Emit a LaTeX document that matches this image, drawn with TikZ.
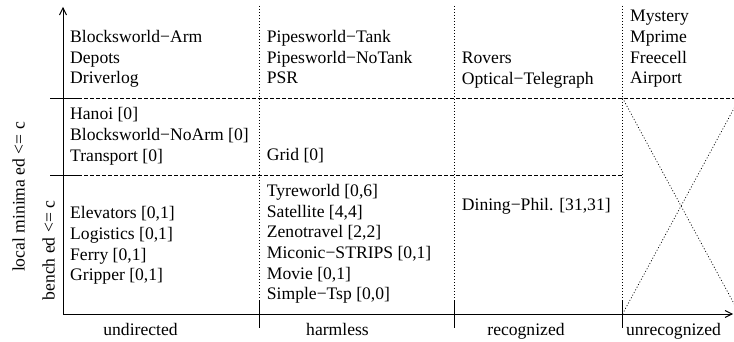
\documentclass[tikz,border=0pt]{standalone}
\usepackage{fontspec}
\setmainfont{Liberation Serif}
\usepackage{tikz}
\usetikzlibrary{arrows.meta}
\tikzstyle{cellTX} = [anchor=north west, inner sep=0pt, align=left, font=\fontsize{17.6}{20.7}\selectfont]
\tikzstyle{axisTX} = [anchor=base, inner sep=0pt, font=\fontsize{17.6}{20.7}\selectfont]
\tikzstyle{axisLN} = [draw, line width=0.9pt, -{Straight Barb[length=7pt,width=7pt]}]
\tikzstyle{tickLN} = [draw, line width=0.9pt]
\tikzstyle{rowDS} = [draw, line width=0.7pt, dash pattern=on 3.5pt off 2.5pt]
\tikzstyle{colDT} = [draw, line width=0.7pt, dash pattern=on 1pt off 2pt]

\begin{document}
\begin{tikzpicture}[x=1pt, y=-1pt]
  \useasboundingbox (0,0) rectangle (734,342);
  \clip (0,0) rectangle (734,342);

  % ejes
  \coordinate (origin) at (63,314);
  \coordinate (y_end) at (63,7);
  \coordinate (x_end) at (733,314);
  \path [axisLN] (origin) -- (y_end);
  \path [axisLN] (origin) -- (x_end);
  \foreach \y in {98,175} \path [tickLN] (50,\y) -- (78,\y);
  \foreach \x in {259,454,622.5} \path [tickLN] (\x,300) -- (\x,328);

  % rejilla
  \path [rowDS] (78,98) -- (734,98);
  \path [rowDS] (78,175) -- (622.5,175);
  \foreach \x in {259,454,622.5} \path [colDT] (\x,6) -- (\x,300);
  \path [colDT] (622.5,98) -- (739.6,314);
  \path [colDT] (622.5,314) -- (739.6,98);

  % nodes
  \node [cellTX] (undir_top) at (70,30) {Blocksworld−Arm\\Depots\\Driverlog};
  \node [cellTX] (harm_top) at (266.7,30) {Pipesworld−Tank\\Pipesworld−NoTank\\PSR};
  \node [cellTX] (recog_top) at (461.7,51.7) {Rovers\\Optical−Telegraph};
  \node [cellTX] (unrec_top) at (630,10) {Mystery\\Mprime\\Freecell\\Airport};
  \node [cellTX] (undir_mid) at (70,107.3) {Hanoi [0]\\Blocksworld−NoArm [0]\\Transport [0]};
  \node [cellTX] (harm_mid) at (266.7,148) {Grid [0]};
  \node [cellTX] (undir_bot) at (70,206.3) {Elevators [0,1]\\Logistics [0,1]\\Ferry [0,1]\\Gripper [0,1]};
  \node [cellTX] (harm_bot) at (266.7,184) {Tyreworld [0,6]\\Satellite [4,4]\\Zenotravel [2,2]\\Miconic−STRIPS [0,1]\\Movie [0,1]\\Simple−Tsp [0,0]};
  \node [cellTX] (recog_bot) at (461.7,198) {Dining−Phil. [31,31]};

  % leyenda de los ejes
  \node [axisTX] (lab_undir) at (140.5,335) {undirected};
  \node [axisTX] (lab_harm) at (337.5,335) {harmless};
  \node [axisTX] (lab_recog) at (526,335) {recognized};
  \node [axisTX] (lab_unrec) at (673.5,335) {unrecognized};
  \node [axisTX, rotate=90] (lab_lmin) at (24.5,197) {local minima ed <= c};
  \node [axisTX, rotate=90] (lab_bench) at (54.5,250.5) {bench ed <= c};
\end{tikzpicture}
\end{document}
